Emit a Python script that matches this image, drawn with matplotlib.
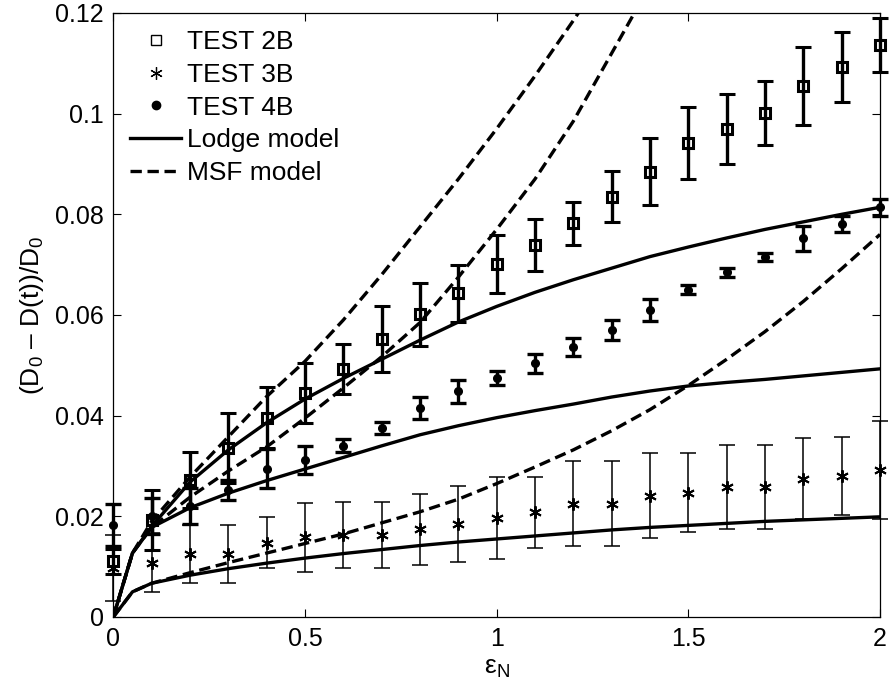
import numpy as np
import matplotlib.pyplot as plt
from matplotlib.lines import Line2D

plt.rcParams['font.family'] = ['Liberation Sans', 'DejaVu Sans']
plt.rcParams['mathtext.fontset'] = 'custom'
plt.rcParams['mathtext.rm'] = 'Liberation Sans'
plt.rcParams['mathtext.it'] = 'Liberation Sans:italic'

# measured points (Hencky strain)
strain = [0.0, 0.1, 0.2, 0.3, 0.4, 0.5, 0.6, 0.7, 0.8, 0.9, 1.0,
          1.1, 1.2, 1.3, 1.4, 1.5, 1.6, 1.7, 1.8, 1.9, 2.0]

test2b = [0.0111, 0.0193, 0.0272, 0.0336, 0.0396, 0.0445, 0.0493, 0.0552, 0.0601, 0.0643, 0.0701,
          0.0739, 0.0782, 0.0835, 0.0885, 0.0942, 0.0970, 0.1001, 0.1055, 0.1093, 0.1137]
err2b = [0.0025, 0.0060, 0.0055, 0.0069, 0.0060, 0.0060, 0.0050, 0.0066, 0.0062, 0.0056, 0.0058,
         0.0051, 0.0042, 0.0051, 0.0066, 0.0072, 0.0070, 0.0063, 0.0078, 0.0070, 0.0054]

test3b = [0.0097, 0.0108, 0.0125, 0.0125, 0.0148, 0.0158, 0.0163, 0.0163, 0.0174, 0.0185, 0.0197,
          0.0208, 0.0225, 0.0225, 0.0241, 0.0247, 0.0258, 0.0258, 0.0275, 0.0280, 0.0292]
err3b = [0.0066, 0.0058, 0.0057, 0.0057, 0.0051, 0.0069, 0.0065, 0.0065, 0.0070, 0.0075, 0.0081,
         0.0071, 0.0084, 0.0084, 0.0084, 0.0079, 0.0083, 0.0083, 0.0080, 0.0078, 0.0097]

test4b = [0.0183, 0.0200, 0.0221, 0.0252, 0.0295, 0.0312, 0.0340, 0.0375, 0.0415, 0.0448, 0.0475,
          0.0504, 0.0537, 0.0570, 0.0610, 0.0650, 0.0685, 0.0715, 0.0752, 0.0781, 0.0814]
err4b = [0.0042, 0.0036, 0.0036, 0.0020, 0.0039, 0.0027, 0.0013, 0.0012, 0.0022, 0.0023, 0.0014,
         0.0019, 0.0018, 0.0020, 0.0022, 0.0009, 0.0009, 0.0008, 0.0025, 0.0016, 0.0017]

# model predictions
eps_model = [0.0, 0.05, 0.1, 0.2, 0.3, 0.4, 0.5, 0.6, 0.7, 0.8, 0.9, 1.0,
             1.1, 1.2, 1.3, 1.4, 1.5, 1.6, 1.7, 1.8, 1.9, 2.0]

lodge_2b = [0.0, 0.0127, 0.0180, 0.0268, 0.0332, 0.0386, 0.0433, 0.0474, 0.0512, 0.0550, 0.0586, 0.0617,
            0.0645, 0.0670, 0.0693, 0.0716, 0.0735, 0.0753, 0.0770, 0.0785, 0.0800, 0.0814]
lodge_4b = [0.0, 0.0127, 0.0178, 0.0217, 0.0246, 0.0271, 0.0294, 0.0317, 0.0340, 0.0362, 0.0380, 0.0396,
            0.0410, 0.0423, 0.0437, 0.0449, 0.0459, 0.0466, 0.0472, 0.0479, 0.0486, 0.0493]
lodge_3b = [0.0, 0.0050, 0.0067, 0.0083, 0.0096, 0.0107, 0.0117, 0.0126, 0.0134, 0.0142, 0.0149, 0.0155,
            0.0161, 0.0167, 0.0173, 0.0178, 0.0182, 0.0186, 0.0190, 0.0193, 0.0196, 0.0199]

msf_2b = [0.0, 0.0127, 0.0190, 0.0278, 0.0358, 0.0438, 0.0508, 0.0590, 0.0680, 0.0775, 0.0870, 0.0970,
          0.1075, 0.1185, 0.1300, 0.1420, 0.1550, 0.1680, 0.1820, 0.1960, 0.2100, 0.2250]
msf_4b = [0.0, 0.0127, 0.0178, 0.0238, 0.0290, 0.0338, 0.0395, 0.0455, 0.0517, 0.0585, 0.0675, 0.0770,
          0.0870, 0.0985, 0.1120, 0.1255, 0.1390, 0.1530, 0.1680, 0.1830, 0.1990, 0.2150]
msf_3b = [0.0, 0.0050, 0.0067, 0.0088, 0.0108, 0.0127, 0.0146, 0.0165, 0.0187, 0.0209, 0.0234, 0.0265,
          0.0298, 0.0332, 0.0370, 0.0412, 0.0460, 0.0512, 0.0567, 0.0627, 0.0692, 0.0760]

fig = plt.figure(figsize=(8.9, 6.9), dpi=100)
ax = fig.add_axes([0.1273, 0.1058, 0.8615, 0.8754])

dash = (0, (3.4, 1.7))
for ys in (lodge_2b, lodge_4b, lodge_3b):
    ax.plot(eps_model, ys, color='k', lw=2.4, solid_joinstyle='round')
for ys in (msf_2b, msf_4b, msf_3b):
    ax.plot(eps_model, ys, color='k', lw=2.4, linestyle=dash)

c2 = ax.errorbar(strain, test2b, yerr=err2b, fmt='s', color='k', mfc='none', ms=7.5, mew=2.2,
                 elinewidth=2.4, capsize=5.5, capthick=2.4)
c3 = ax.errorbar(strain, test3b, yerr=err3b, fmt='none', ecolor='k',
                 elinewidth=1.1, capsize=5.5, capthick=1.1)
ax.plot(strain, test3b, linestyle='none', marker=(6, 2, 0), color='k', ms=9, mew=1.4, clip_on=False)
c4 = ax.errorbar(strain, test4b, yerr=err4b, fmt='o', color='k', ms=5.5,
                 elinewidth=2.4, capsize=5.5, capthick=2.4)
for c in (c2, c3, c4):
    for art in c.get_children():
        art.set_clip_on(False)

ax.set_xlim(0, 2)
ax.set_ylim(0, 0.12)
ax.set_xticks([0, 0.5, 1, 1.5, 2])
ax.set_xticklabels(['0', '0.5', '1', '1.5', '2'])
ax.set_yticks([0, 0.02, 0.04, 0.06, 0.08, 0.1, 0.12])
ax.set_yticklabels(['0', '0.02', '0.04', '0.06', '0.08', '0.1', '0.12'])
ax.tick_params(direction='in', top=True, right=True, length=6, width=0.8,
               labelsize=18, pad=7)
for s in ax.spines.values():
    s.set_linewidth(0.9)

ax.set_xlabel(r'ε$_\mathrm{N}$', fontsize=19, labelpad=4)
ax.set_ylabel(r'(D$_0$ – D(t))/D$_0$', fontsize=19, labelpad=6)

handles = [
    Line2D([], [], linestyle='none', marker='s', mfc='none', mec='k', ms=7, mew=1.0),
    Line2D([], [], linestyle='none', marker=(6, 2, 0), color='k', ms=9, mew=0.9),
    Line2D([], [], linestyle='none', marker='o', color='k', ms=6),
    Line2D([], [], color='k', lw=2.4),
    Line2D([], [], color='k', lw=2.4, linestyle=dash),
]
labels = ['TEST 2B', 'TEST 3B', 'TEST 4B', 'Lodge model', 'MSF model']
ax.legend(handles, labels, loc='upper left', frameon=False, fontsize=19,
          handlelength=1.9, handletextpad=0.25, labelspacing=0.33,
          borderaxespad=0.3, borderpad=0.35)

fig.savefig('out.png', dpi=100)
